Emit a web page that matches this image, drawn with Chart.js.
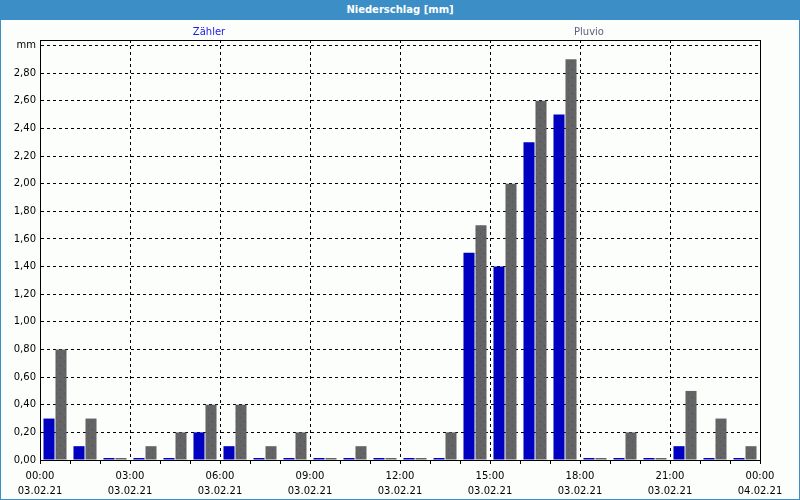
<!DOCTYPE html>
<html>
<head>
<meta charset="utf-8">
<script src="https://cdn.jsdelivr.net/npm/chart.js@4"></script>
<style>
  body { margin: 0; background: #fff; }
  #wrap { width: 800px; height: 500px; box-sizing: border-box; border: 1px solid #3c8fc6; border-top: 0; background: #fcfefc; }
  #head { height: 20px; background: #3c8fc6; color: #fff; font: bold 10px "DejaVu Sans", sans-serif; text-align: center; line-height: 20px; margin: 0 -1px; }
  #box { position: relative; width: 798px; height: 479px; }
</style>
</head>
<body>
<div id="wrap">
  <div id="head">Niederschlag [mm]</div>
  <div id="box"><canvas id="rainChart"></canvas></div>
</div>
<script>
const hours = ['00', '01', '02', '03', '04', '05', '06', '07', '08', '09', '10', '11',
               '12', '13', '14', '15', '16', '17', '18', '19', '20', '21', '22', '23'];
const zaehler = [0.30, 0.10, 0, 0, 0, 0.20, 0.10, 0, 0, 0, 0, 0,
                 0, 0, 1.50, 1.40, 2.30, 2.50, 0, 0, 0, 0.10, 0, 0];
const pluvio = [0.80, 0.30, 0, 0.10, 0.20, 0.40, 0.40, 0.10, 0.20, 0, 0.10, 0,
                0, 0.20, 1.70, 2.00, 2.60, 2.90, 0, 0.20, 0, 0.50, 0.30, 0.10];
const timeLabels = ['00:00', '03:00', '06:00', '09:00', '12:00', '15:00', '18:00', '21:00', '00:00'];
const dateLabels = ['03.02.21', '03.02.21', '03.02.21', '03.02.21', '03.02.21', '03.02.21', '03.02.21', '03.02.21', '04.02.21'];
const seriesNames = ['Zähler', 'Pluvio'];

document.addEventListener('DOMContentLoaded', function() {
    const FONT = '"DejaVu Sans", sans-serif';

    // dotted grey fill like the original
    const pc = document.createElement('canvas');
    pc.width = 8; pc.height = 8;
    const p = pc.getContext('2d');
    p.fillStyle = '#646464';
    p.fillRect(0, 0, 8, 8);
    p.fillStyle = '#4a4a80';
    p.fillRect(3, 1, 1, 1);
    p.fillRect(7, 5, 1, 1);
    const dotted = p.createPattern(pc, 'repeat');

    const frame = {
        id: 'frame',
        afterDraw(chart) {
            const a = chart.chartArea, c = chart.ctx;
            c.save();
            c.strokeStyle = '#000';
            c.lineWidth = 1;
            c.strokeRect(Math.round(a.left) + 0.5, Math.round(a.top) + 0.5,
                         Math.round(a.right - a.left), Math.round(a.bottom - a.top));
            c.font = '10px ' + FONT;
            c.textAlign = 'center';
            c.textBaseline = 'middle';
            c.fillStyle = '#2020e0';
            c.fillText(seriesNames[0], 208, 12);
            c.fillStyle = '#606080';
            c.fillText(seriesNames[1], 588, 12);
            c.restore();
        }
    };

    const ctx = document.getElementById('rainChart').getContext('2d');
    new Chart(ctx, {
        type: 'bar',
        data: {
            labels: hours,
            datasets: [{
                label: seriesNames[0],
                data: zaehler,
                backgroundColor: '#0000c0',
                categoryPercentage: 0.8,
                barPercentage: 0.92,
                minBarLength: 2
            }, {
                label: seriesNames[1],
                data: pluvio,
                backgroundColor: dotted,
                categoryPercentage: 0.8,
                barPercentage: 0.92,
                minBarLength: 2
            }]
        },
        options: {
            responsive: true,
            maintainAspectRatio: false,
            animation: false,
            layout: { padding: { top: 20, right: 39, left: 0, bottom: 0 } },
            plugins: {
                legend: { display: false },
                tooltip: { enabled: false }
            },
            scales: {
                x: { display: false, offset: true },
                x2: {
                    type: 'linear',
                    position: 'bottom',
                    min: 0,
                    max: 24,
                    offset: false,
                    afterFit(s) { s.height = 39; },
                    border: { display: true, color: '#000', dash: [3, 3] },
                    grid: {
                        offset: false,
                        color: c => (c.tick && c.tick.value % 3 === 0) ? '#000' : 'rgba(0,0,0,0)',
                        tickColor: '#000',
                        tickLength: 4
                    },
                    ticks: {
                        stepSize: 1,
                        autoSkip: false,
                        maxRotation: 0,
                        padding: 5,
                        color: '#000',
                        font: { family: FONT, size: 10, lineHeight: 1.5 },
                        callback: v => v % 3 === 0 ? [timeLabels[v / 3], dateLabels[v / 3]] : ''
                    }
                },
                y: {
                    min: 0,
                    max: 3.04,
                    afterFit(s) { s.width = 39; },
                    border: { display: true, color: '#000', dash: [3, 3] },
                    grid: { color: '#000', drawTicks: false },
                    ticks: {
                        stepSize: 0.2,
                        includeBounds: false,
                        padding: 4,
                        color: '#000',
                        font: { family: FONT, size: 10 },
                        callback: v => Math.abs(v - 3) < 0.001 ? 'mm' : v.toFixed(2).replace('.', ',')
                    }
                }
            }
        },
        plugins: [frame]
    });
});
</script>
</body>
</html>
